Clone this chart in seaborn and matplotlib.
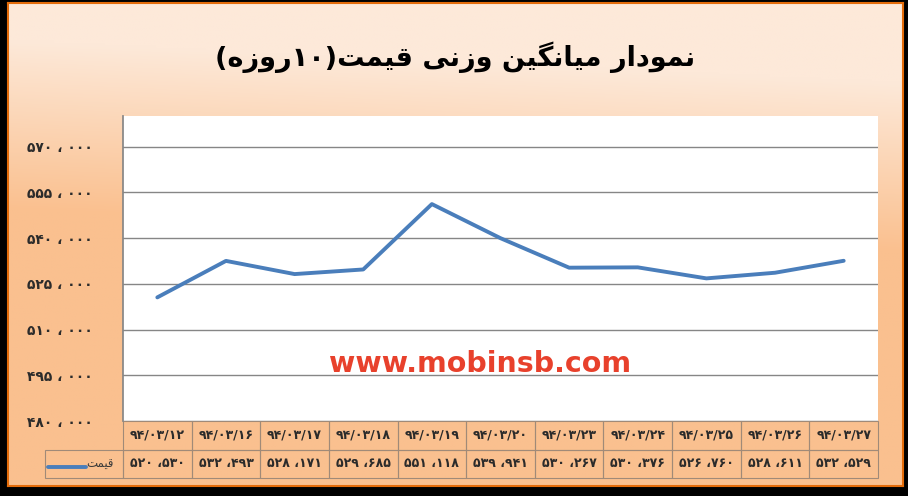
import re
import numpy as np
import pandas as pd
import seaborn as sns
import matplotlib.pyplot as plt

# data
dates = ["94/03/12", "94/03/16", "94/03/17", "94/03/18", "94/03/19", "94/03/20",
         "94/03/23", "94/03/24", "94/03/25", "94/03/26", "94/03/27"]
prices = [520530, 532493, 528171, 529685, 551118, 539941,
          530267, 530376, 526760, 528611, 532529]
y_ticks = [480000, 495000, 510000, 525000, 540000, 555000, 570000]
title = "نمودار میانگین وزنی قیمت(۱۰روزه)"
series_name = "قیمت"
watermark = "www.mobinsb.com"

# persian digits
fa_digits = str.maketrans("0123456789", "۰۱۲۳۴۵۶۷۸۹")


def fa_num(v, sep=" ، "):
    return f"{v // 1000}{sep}{v % 1000:03d}".translate(fa_digits)


# arabic presentation forms: isolated, final, initial, medial
forms = {
    "ا": ("\uFE8D", "\uFE8E", None, None),
    "د": ("\uFEA9", "\uFEAA", None, None),
    "ر": ("\uFEAD", "\uFEAE", None, None),
    "ز": ("\uFEAF", "\uFEB0", None, None),
    "و": ("\uFEED", "\uFEEE", None, None),
    "ن": ("\uFEE5", "\uFEE6", "\uFEE7", "\uFEE8"),
    "م": ("\uFEE1", "\uFEE2", "\uFEE3", "\uFEE4"),
    "ق": ("\uFED5", "\uFED6", "\uFED7", "\uFED8"),
    "ت": ("\uFE95", "\uFE96", "\uFE97", "\uFE98"),
    "ه": ("\uFEE9", "\uFEEA", "\uFEEB", "\uFEEC"),
    "ی": ("\uFBFC", "\uFBFD", "\uFBFE", "\uFBFF"),
    "گ": ("\uFB92", "\uFB93", "\uFB94", "\uFB95"),
}
mirror = {"(": ")", ")": "("}


def shape_rtl(s):
    out = []
    for i, c in enumerate(s):
        if c not in forms:
            out.append(c)
            continue
        prev = s[i - 1] if i > 0 else ""
        nxt = s[i + 1] if i + 1 < len(s) else ""
        jp = prev in forms and forms[prev][2] is not None
        jn = forms[c][2] is not None and nxt in forms
        iso, fin, ini, med = forms[c]
        out.append(med if jp and jn else fin if jp else ini if jn else iso)
    runs = re.findall(r"[۰-۹]+|[^۰-۹]+", "".join(out))
    vis = ""
    for r in reversed(runs):
        if r[0] in "۰۱۲۳۴۵۶۷۸۹":
            vis += r
        else:
            vis += "".join(mirror.get(ch, ch) for ch in reversed(r))
    return vis


df = pd.DataFrame({"date": [d.translate(fa_digits) for d in dates], "price": prices})

sns.set_theme(style="white")
plt.rcParams["font.family"] = ["DejaVu Sans"]

fig = plt.figure(figsize=(9.08, 4.96), dpi=100, facecolor="black")

# gradient background
bg = fig.add_axes([8 / 908, 10 / 496, 895 / 908, 483 / 496])
u, v = np.meshgrid(np.linspace(0, 1, 300), np.linspace(0, 1, 200))
t = np.clip((v - 0.12) / 0.35 + 0.25 * (0.5 - u), 0, 1)[..., None]
light = np.array([253, 233, 217]) / 255
orange = np.array([250, 192, 143]) / 255
bg.imshow(light * (1 - t) + orange * t, aspect="auto", extent=[0, 1, 0, 1])
bg.set_xticks([])
bg.set_yticks([])
for s in bg.spines.values():
    s.set_color("#E46C0A")
    s.set_linewidth(1.5)

ax = fig.add_axes([123 / 908, 75 / 496, 755 / 908, 305 / 496])
ax.set_facecolor("white")
sns.lineplot(data=df, x="date", y="price", ax=ax, color="#4A7EBB",
             linewidth=2.8, sort=False)
ax.set_xlim(-0.5, len(dates) - 0.5)
ax.set_ylim(480000, 580000)
ax.set_yticks(y_ticks)
ax.set_yticklabels([fa_num(v) for v in y_ticks], fontweight="bold",
                   fontsize=10, color="#2B2B2B")
ax.tick_params(axis="y", length=0, pad=22)
ax.set_xticks([])
ax.set_xlabel("")
ax.set_ylabel("")
ax.grid(axis="y", color="#868686", linewidth=1)
for side in ["top", "right", "bottom"]:
    ax.spines[side].set_visible(False)
ax.spines["left"].set_color("#868686")

# data table below the plot
cell_text = [[""] + df["date"].tolist(), [""] + [fa_num(v, " ،") for v in prices]]
col_w = [78] + [755 / 11] * 11
tbl = ax.table(cellText=cell_text, colWidths=[w / 833 for w in col_w],
               cellLoc="center", bbox=[-78 / 755, -57 / 305, 833 / 755, 57 / 305])
tbl.auto_set_font_size(False)
tbl.set_fontsize(9)
for (r, c), cell in tbl.get_celld().items():
    cell.set_facecolor("none")
    cell.set_edgecolor("#A08A78")
    cell.set_linewidth(0.8)
    cell.get_text().set_fontweight("bold")
    cell.get_text().set_color("#2B2B2B")
tbl[0, 0].visible_edges = ""

# legend key in the table
ax.plot([-75 / 755, -37 / 755], [-46 / 305, -46 / 305], transform=ax.transAxes,
        clip_on=False, color="#4A7EBB", linewidth=2.8, solid_capstyle="round")
ax.text(-9 / 755, -43 / 305, shape_rtl(series_name), transform=ax.transAxes,
        ha="right", va="center", fontsize=8.5, color="#3A3A3A")

ax.text(0.473, 0.187, watermark, transform=ax.transAxes, ha="center", va="center",
        color="#E8412C", fontweight="bold", fontsize=20.5)

fig.text(455 / 908, 1 - 57 / 496, shape_rtl(title), ha="center", va="center",
         fontsize=19.5, fontweight="bold", color="black")

fig.savefig("out.png", dpi=100, facecolor=fig.get_facecolor())
